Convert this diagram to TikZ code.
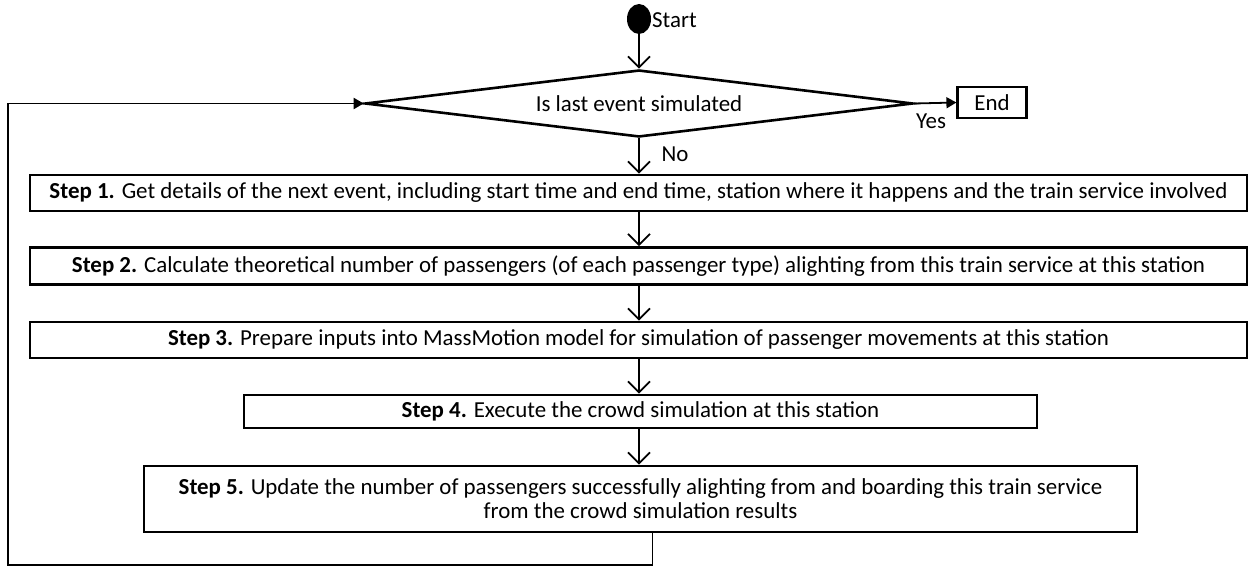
\documentclass[tikz,border=0pt]{standalone}
\usepackage{fontspec}
\setmainfont{Carlito}
\usetikzlibrary{arrows.meta,shapes.geometric}
\newlength\wthree
\begin{document}
\settowidth\wthree{\fontsize{20pt}{24pt}\selectfont\textbf{Step 3.} Prepare inputs into MassMotion model for simulation of passenger movements at this station}%
\pgfmathsetmacro\fs{20*(941/\wthree)}%
\newcommand\stepfont{\fontsize{\fs pt}{24pt}\selectfont}%
\begin{tikzpicture}[x=1pt,y=-1pt,
  box/.style={draw,line width=2.6pt,inner sep=0pt,align=center},
  conn/.style={line width=1.8pt,-{Straight Barb[length=11pt,width=22pt,line width=1.8pt]}},
  fconn/.style={line width=1.8pt,-{Triangle[length=10pt,width=11pt]}},
  lbl/.style={inner sep=0pt}]
\useasboundingbox (0,0) rectangle (1249,567);
% start / decision / end
\node[ellipse,fill=black,minimum width=24pt,minimum height=30pt,inner sep=0pt] (start) at (639,19) {};
\node[lbl,anchor=west,font=\stepfont] (startlbl) at (652,20) {Start};
\node[diamond,draw,line width=2.6pt,shape aspect=8.2,minimum width=548pt,minimum height=67pt,inner sep=0pt,font=\stepfont] (dec) at (639,103.5) {Is last event simulated};
\node[box,line width=2.2pt,minimum width=69pt,minimum height=31pt,font=\stepfont] (end) at (992,102.5) {End};
\node[lbl,font=\stepfont] (yes) at (931,121) {Yes};
\node[lbl,font=\stepfont] (no) at (675,154) {No};
% steps
\node[box,minimum width=1217pt,minimum height=36pt] (s1) at (638.5,193) {\resizebox{1178pt}{\height}{\stepfont\textbf{Step 1.} Get details of the next event, including start time and end time, station where it happens and the train service involved}};
\node[box,minimum width=1217pt,minimum height=37pt] (s2) at (638.5,266) {\resizebox{1133pt}{\height}{\stepfont\textbf{Step 2.} Calculate theoretical number of passengers (of each passenger type) alighting from this train service at this station}};
\node[box,minimum width=1217pt,minimum height=36pt,font=\stepfont] (s3) at (638.5,340) {\textbf{Step 3.} Prepare inputs into MassMotion model for simulation of passenger movements at this station};
\node[box,minimum width=793pt,minimum height=33pt,font=\stepfont] (s4) at (640.5,411.5) {\textbf{Step 4.} Execute the crowd simulation at this station};
\node[box,minimum width=993pt,minimum height=66pt,font=\stepfont] (s5) at (640.5,499) {\textbf{Step 5.} Update the number of passengers successfully alighting from and boarding this train service\\ from the crowd simulation results};
\coordinate (lb) at (8,565);
% connectors
\draw[conn] (start.south) -- (dec.north);
\draw[fconn] (dec.east) -- (end.west);
\draw[conn] (dec.south) -- (dec.south |- s1.north);
\draw[conn] (dec.south |- s1.south) -- (dec.south |- s2.north);
\draw[conn] (dec.south |- s2.south) -- (dec.south |- s3.north);
\draw[conn] (dec.south |- s3.south) -- (dec.south |- s4.north);
\draw[conn] (dec.south |- s4.south) -- (dec.south |- s5.north);
\draw[fconn] ([xshift=12pt]s5.south) -- ([xshift=12pt]s5.south |- lb) -- (lb) |- (dec.west);
\end{tikzpicture}
\end{document}
